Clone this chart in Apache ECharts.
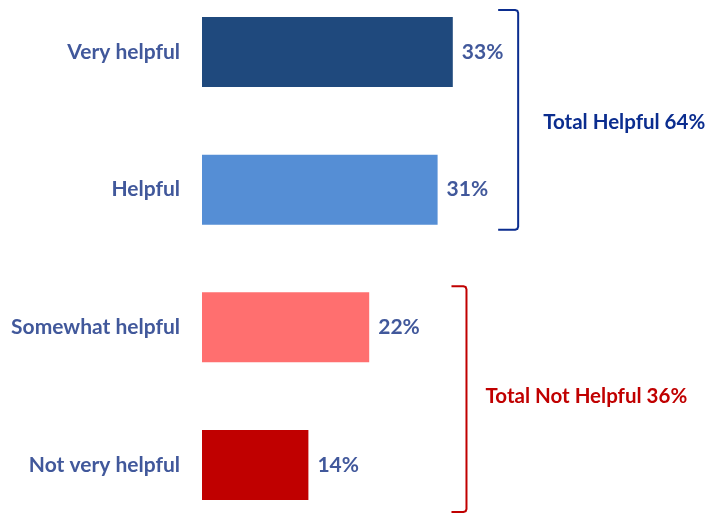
<!DOCTYPE html>
<html>
<head>
<meta charset="utf-8">
<script src="https://cdn.jsdelivr.net/npm/echarts@6/dist/echarts.min.js"></script>
<style>
  html, body { margin: 0; padding: 0; background: #ffffff; }
  #chart { width: 709px; height: 513px; }
</style>
</head>
<body>
<div id="chart"></div>
<script>
// Survey responses: how helpful respondents found it (percent)
const categories = ['Very helpful', 'Helpful', 'Somewhat helpful', 'Not very helpful'];
const values = [33, 31, 22, 14];
const barColors = ['#1f497d', '#558ed5', '#ff6f6f', '#c00000'];

// Group totals shown beside the brackets
const groupLabels = ['Total Helpful 64%', 'Total Not Helpful 36%'];
const groupColors = ['#0b2d8f', '#c00000'];

const FONT = 'Lato, "Open Sans", sans-serif';
const FONT_SIZE = 21;
const TOTAL_FONT_SIZE = 20.5;
const TEXT_COLOR = '#41589b';

const chart = echarts.init(document.getElementById('chart'), null, { renderer: 'canvas' });

chart.setOption({
  animation: false,
  backgroundColor: '#ffffff',
  grid: { left: 202, top: 52, width: 456, height: 413 },
  xAxis: {
    type: 'value', min: 0, max: 60,
    show: false
  },
  yAxis: {
    type: 'category',
    data: categories,
    inverse: true,
    boundaryGap: false,
    axisLine: { show: false },
    axisTick: { show: false },
    splitLine: { show: false },
    axisLabel: {
      margin: 22,
      color: TEXT_COLOR,
      fontFamily: FONT,
      fontWeight: 'bold',
      fontSize: FONT_SIZE
    }
  },
  series: [{
    type: 'bar',
    barWidth: 70,
    data: values.map((v, i) => ({ value: v, itemStyle: { color: barColors[i] } })),
    label: {
      show: true,
      position: 'right',
      distance: 9,
      formatter: p => p.value + '%',
      color: TEXT_COLOR,
      fontFamily: FONT,
      fontWeight: 'bold',
      fontSize: FONT_SIZE
    }
  }]
});

// Brackets grouping the first two and last two categories
function bracket(fromIdx, toIdx, xVal, padTop, padBottom, tick, color, text, textGap, textShift) {
  const top = chart.convertToPixel({ gridIndex: 0 }, [0, fromIdx])[1] - 35 - padTop;
  const bottom = chart.convertToPixel({ gridIndex: 0 }, [0, toIdx])[1] + 35 + padBottom;
  const x = chart.convertToPixel({ gridIndex: 0 }, [xVal, 0])[0];
  return [
    {
      type: 'polyline',
      shape: {
        points: [
          [x - tick, top], [x - 3, top], [x - 0.8, top + 0.8], [x, top + 3],
          [x, bottom - 3], [x - 0.8, bottom - 0.8], [x - 3, bottom], [x - tick, bottom]
        ]
      },
      style: { fill: null, stroke: color, lineWidth: 2 }
    },
    {
      type: 'text',
      x: x + textGap,
      y: (top + bottom) / 2 + textShift,
      style: {
        text: text,
        fill: color,
        font: `bold ${TOTAL_FONT_SIZE}px ${FONT}`,
        verticalAlign: 'middle'
      }
    }
  ];
}

chart.setOption({
  graphic: [
    ...bracket(0, 1, 41.6, 7, 5, 20, groupColors[0], groupLabels[0], 25, 3),
    ...bracket(2, 3, 34.8, 6, 12, 15, groupColors[1], groupLabels[1], 19, -3)
  ]
});
</script>
</body>
</html>
